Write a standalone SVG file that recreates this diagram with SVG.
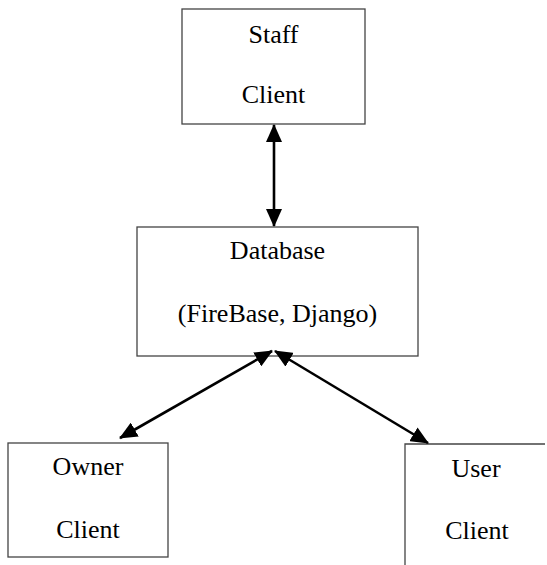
<svg xmlns="http://www.w3.org/2000/svg" width="547" height="565" viewBox="0 0 547 565">
<style>
.box{fill:#fff;stroke:#444;stroke-width:1.3}
.t{font-family:"Liberation Serif","Times New Roman",serif;font-size:26px;fill:#000;text-anchor:middle}
.c{stroke:#000;stroke-width:2.6;fill:none;marker-start:url(#ah);marker-end:url(#ah)}
</style>
<defs>
<marker id="ah" markerUnits="userSpaceOnUse" markerWidth="18" markerHeight="16" refX="17" refY="8" orient="auto-start-reverse" viewBox="0 0 18 16">
<path d="M0,0 L18,8 L0,16 Z" fill="#000"/>
</marker>
</defs>
<rect width="547" height="565" fill="#fff"/>
<g id="staff">
<rect class="box" x="182" y="9" width="183" height="115"/>
<text class="t" x="273.5" y="43">Staff</text>
<text class="t" x="273.5" y="103">Client</text>
</g>
<g id="database">
<rect class="box" x="137" y="227" width="281" height="129"/>
<text class="t" x="277.5" y="259">Database</text>
<text class="t" x="277.5" y="322">(FireBase, Django)</text>
</g>
<g id="owner">
<rect class="box" x="8" y="443" width="160" height="114"/>
<text class="t" x="88" y="475">Owner</text>
<text class="t" x="88" y="538">Client</text>
</g>
<g id="user">
<path class="box" d="M405,570 L405,444 L545,444" fill="none"/>
<text class="t" x="476" y="477">User</text>
<text class="t" x="477" y="539">Client</text>
</g>
<g id="connectors">
<line class="c" x1="274" y1="125" x2="274" y2="226"/>
<line class="c" x1="272" y1="351" x2="120" y2="438"/>
<line class="c" x1="275" y1="351" x2="428" y2="443"/>
</g>
</svg>
